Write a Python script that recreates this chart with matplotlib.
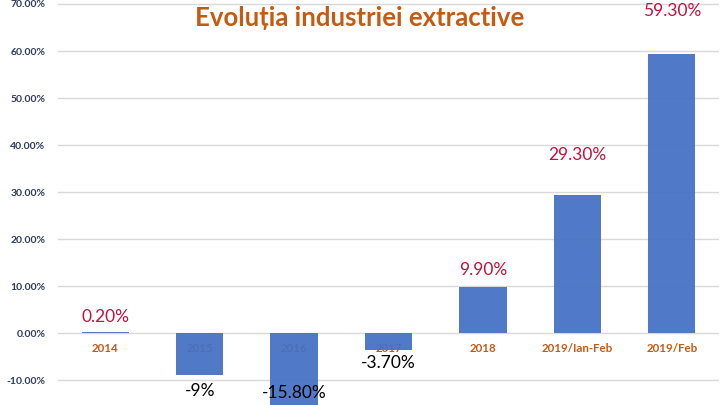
import matplotlib.pyplot as plt

categories = ['2014', '2015', '2016', '2017', '2018', '2019/Ian-Feb', '2019/Feb']
values = [0.2, -9.0, -15.8, -3.7, 9.9, 29.3, 59.3]
value_labels = ['0.20%', '-9%', '-15.80%', '-3.70%', '9.90%', '29.30%', '59.30%']
yticks = [-10, 0, 10, 20, 30, 40, 50, 60, 70]

# label offsets (points) as placed by hand in the original
label_dy = [11, -11, 10, -9, 12, 29, 31]

plt.rcParams['font.family'] = ['Lato', 'DejaVu Sans']

fig = plt.figure(figsize=(7.2, 4.05), dpi=100)
ax = fig.add_axes([58 / 720, 0, 661 / 720, 1])

x = list(range(len(categories)))
ax.bar(x, values, width=0.5, color='#4370C4', alpha=0.93, zorder=3)

ax.set_xlim(-0.5, len(categories) - 0.5)
ax.set_ylim(-15.3, 70.85)
ax.set_yticks(yticks)
ax.set_yticklabels(['%.2f%%' % v for v in yticks], fontsize=7.5,
                   fontweight='bold', color='#2E3A5A')
ax.tick_params(axis='y', length=0, pad=9)
ax.set_xticks([])
ax.yaxis.grid(True, color='#D9D9D9', lw=1, zorder=0)
for s in ax.spines.values():
    s.set_visible(False)

for i, c in enumerate(categories):
    ax.annotate(c, (i, 0), xytext=(0, -11), textcoords='offset points',
                ha='center', va='center', fontsize=8.3, fontweight='bold',
                color='#C55A11', zorder=2)

for i, (v, t) in enumerate(zip(values, value_labels)):
    col = '#C0143C' if v > 0 else 'black'
    ax.annotate(t, (i, v), xytext=(0, label_dy[i]), textcoords='offset points',
                ha='center', va='center', fontsize=12.5, color=col, zorder=4,
                annotation_clip=False)

fig.text(0.5, 0.955, 'Evoluția industriei extractive', ha='center', va='center',
         fontsize=18.5, fontweight='bold', color='#C55A11')

fig.savefig('out.png', dpi=100)
